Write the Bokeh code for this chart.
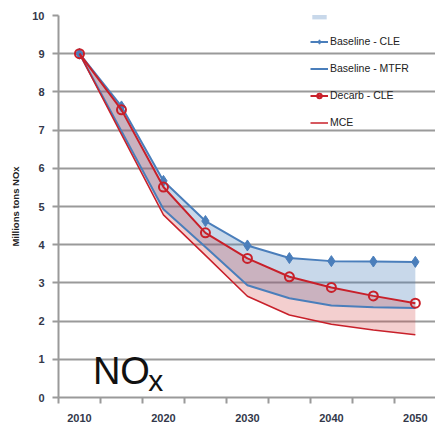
from bokeh.plotting import figure
from bokeh.models import Legend, LegendItem, FixedTicker, Label, Range1d
from bokeh.embed import file_html
from bokeh.resources import INLINE

# ---- data ----
years = [2010, 2015, 2020, 2025, 2030, 2035, 2040, 2045, 2050]
baseline_cle = [9.0, 7.62, 5.67, 4.62, 3.98, 3.65, 3.57, 3.56, 3.55]
baseline_mtfr = [9.0, 6.97, 4.93, 3.94, 2.94, 2.60, 2.41, 2.36, 2.34]
decarb_cle = [9.0, 7.53, 5.51, 4.31, 3.64, 3.16, 2.88, 2.66, 2.47]
mce = [9.0, 6.89, 4.78, 3.72, 2.65, 2.16, 1.92, 1.77, 1.64]
label_years = [2010, 2020, 2030, 2040, 2050]
y_ticks = list(range(0, 11))
half_step = 2.5
boundaries = [y - half_step for y in years] + [years[-1] + half_step]

BLUE = "#4A7EBB"
RED = "#C8202A"
GRID = "#9A9A9A"
TICKTXT = "#33384A"
FONT = "Liberation Sans"

p = figure(width=435, height=424, output_backend="svg", toolbar_location=None,
           x_range=Range1d(boundaries[0], boundaries[-1] - 0.1), y_range=Range1d(0, 10),
           min_border_left=58, min_border_right=0, min_border_top=15, min_border_bottom=24)
p.outline_line_color = None
p.background_fill_color = "white"
p.border_fill_color = "white"

# bands
blue_band = p.varea(x=years, y1=baseline_mtfr, y2=baseline_cle, fill_color=BLUE, fill_alpha=0.3)
red_band = p.varea(x=years, y1=mce, y2=decarb_cle, fill_color="#D04040", fill_alpha=0.25)

# lines
l_bcle = p.line(years, baseline_cle, line_color=BLUE, line_width=2)
m_bcle = p.scatter(years, baseline_cle, marker="diamond", size=11, fill_color=BLUE, line_color=BLUE)
l_mtfr = p.line(years, baseline_mtfr, line_color=BLUE, line_width=2)
l_dcle = p.line(years, decarb_cle, line_color=RED, line_width=2)
m_dcle = p.scatter(years, decarb_cle, marker="circle", size=9, fill_color=None, line_color=RED, line_width=2)
l_mce = p.line(years, mce, line_color=RED, line_width=1.5)

# axes
p.xaxis.ticker = FixedTicker(ticks=label_years, minor_ticks=boundaries)
p.yaxis.ticker = FixedTicker(ticks=y_ticks)
for ax in (p.xaxis, p.yaxis):
    ax.axis_line_color = GRID
    ax.axis_line_width = 2
    ax.major_tick_line_color = GRID
    ax.major_tick_line_width = 2
    ax.major_label_text_font = FONT
    ax.major_label_text_font_style = "bold"
    ax.major_label_text_color = TICKTXT
    ax.major_label_text_font_size = "11px"
p.xaxis.major_tick_line_color = None
p.xaxis.major_tick_out = 0
p.xaxis.major_tick_in = 0
p.xaxis.minor_tick_line_color = GRID
p.xaxis.minor_tick_line_width = 2
p.xaxis.minor_tick_out = 6
p.xaxis.minor_tick_in = 0
p.xaxis.major_label_standoff = 10
p.yaxis.minor_tick_line_color = None
p.yaxis.major_tick_out = 6
p.yaxis.major_tick_in = 0
p.yaxis.major_label_standoff = 8
p.yaxis.axis_label = "Millions tons NOx"
p.yaxis.axis_label_text_font = FONT
p.yaxis.axis_label_text_font_style = "bold"
p.yaxis.axis_label_text_font_size = "9.5px"
p.yaxis.axis_label_text_color = "#222222"
p.yaxis.axis_label_standoff = 8

p.xgrid.grid_line_color = None
p.ygrid.grid_line_color = GRID
p.ygrid.grid_line_width = 2

# big NOx label
p.add_layout(Label(x=2011.6, y=0.70, text="NO", text_font=FONT, text_font_size="38px",
                   text_color="#111111", text_baseline="alphabetic"))
p.add_layout(Label(x=2018.2, y=0.44, text="x", text_font=FONT, text_font_size="30px",
                   text_color="#111111", text_baseline="alphabetic"))

legend = Legend(items=[
    LegendItem(label=" ", renderers=[blue_band]),
    LegendItem(label="Baseline - CLE", renderers=[l_bcle, m_bcle]),
    LegendItem(label="Baseline - MTFR", renderers=[l_mtfr]),
    LegendItem(label="Decarb - CLE", renderers=[l_dcle, m_dcle]),
    LegendItem(label="MCE", renderers=[l_mce]),
], location=(252, 265), padding=0, margin=0, spacing=7, glyph_width=18, glyph_height=11,
    label_height=20, label_standoff=2, label_text_font=FONT, label_text_font_size="10.5px",
    label_text_color="#222222", border_line_color=None, background_fill_alpha=0)
p.add_layout(legend)

open("out.html", "w").write(file_html(p, INLINE))
